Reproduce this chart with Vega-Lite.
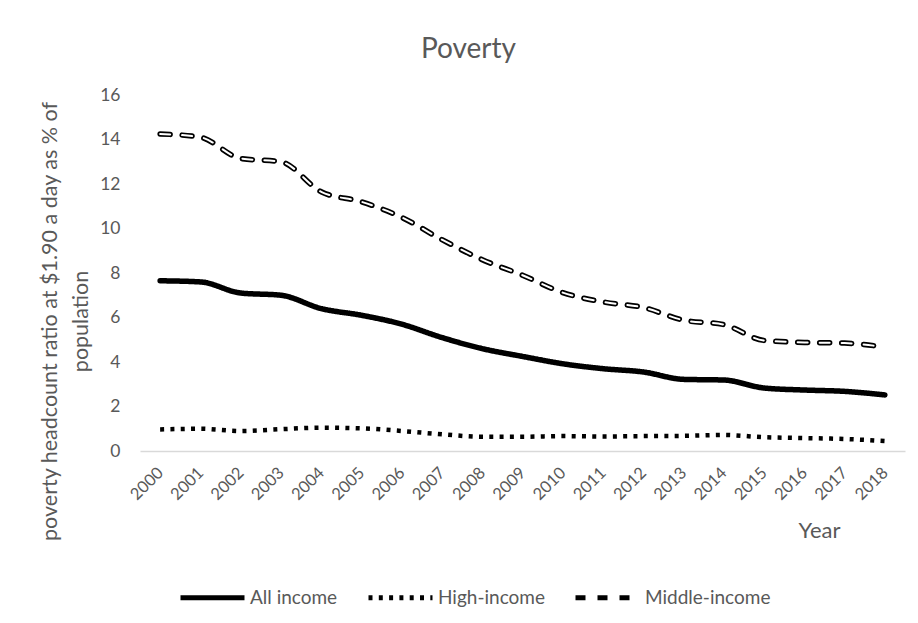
{
  "$schema": "https://vega.github.io/schema/vega-lite/v6.json",
  "autosize": "none",
  "width": 765,
  "height": 356,
  "padding": {"left": 140, "top": 95, "right": 13, "bottom": 172},
  "background": "white",
  "title": {"text": "Poverty", "anchor": "middle", "frame": "group", "dx": -54, "baseline": "alphabetic", "offset": 0, "fontSize": 28, "font": "Lato", "fontWeight": "normal", "color": "#595959"},
  "config": {"view": {"stroke": null}, "font": "Lato"},
  "data": {"values": [
    {"year": "2000", "series": "All income", "value": 7.65},
    {"year": "2001", "series": "All income", "value": 7.6},
    {"year": "2002", "series": "All income", "value": 7.1},
    {"year": "2003", "series": "All income", "value": 7.0},
    {"year": "2004", "series": "All income", "value": 6.4},
    {"year": "2005", "series": "All income", "value": 6.1},
    {"year": "2006", "series": "All income", "value": 5.7},
    {"year": "2007", "series": "All income", "value": 5.1},
    {"year": "2008", "series": "All income", "value": 4.6},
    {"year": "2009", "series": "All income", "value": 4.25},
    {"year": "2010", "series": "All income", "value": 3.92},
    {"year": "2011", "series": "All income", "value": 3.7},
    {"year": "2012", "series": "All income", "value": 3.55},
    {"year": "2013", "series": "All income", "value": 3.22},
    {"year": "2014", "series": "All income", "value": 3.19},
    {"year": "2015", "series": "All income", "value": 2.83},
    {"year": "2016", "series": "All income", "value": 2.74},
    {"year": "2017", "series": "All income", "value": 2.68},
    {"year": "2018", "series": "All income", "value": 2.52},
    {"year": "2000", "series": "High-income", "value": 0.97},
    {"year": "2001", "series": "High-income", "value": 1.0},
    {"year": "2002", "series": "High-income", "value": 0.9},
    {"year": "2003", "series": "High-income", "value": 0.98},
    {"year": "2004", "series": "High-income", "value": 1.05},
    {"year": "2005", "series": "High-income", "value": 1.02},
    {"year": "2006", "series": "High-income", "value": 0.9},
    {"year": "2007", "series": "High-income", "value": 0.75},
    {"year": "2008", "series": "High-income", "value": 0.64},
    {"year": "2009", "series": "High-income", "value": 0.64},
    {"year": "2010", "series": "High-income", "value": 0.67},
    {"year": "2011", "series": "High-income", "value": 0.65},
    {"year": "2012", "series": "High-income", "value": 0.67},
    {"year": "2013", "series": "High-income", "value": 0.68},
    {"year": "2014", "series": "High-income", "value": 0.72},
    {"year": "2015", "series": "High-income", "value": 0.62},
    {"year": "2016", "series": "High-income", "value": 0.58},
    {"year": "2017", "series": "High-income", "value": 0.54},
    {"year": "2018", "series": "High-income", "value": 0.45},
    {"year": "2000", "series": "Middle-income", "value": 14.25},
    {"year": "2001", "series": "Middle-income", "value": 14.1},
    {"year": "2002", "series": "Middle-income", "value": 13.15},
    {"year": "2003", "series": "Middle-income", "value": 13.0},
    {"year": "2004", "series": "Middle-income", "value": 11.65},
    {"year": "2005", "series": "Middle-income", "value": 11.2},
    {"year": "2006", "series": "Middle-income", "value": 10.5},
    {"year": "2007", "series": "Middle-income", "value": 9.5},
    {"year": "2008", "series": "Middle-income", "value": 8.6},
    {"year": "2009", "series": "Middle-income", "value": 7.9},
    {"year": "2010", "series": "Middle-income", "value": 7.12},
    {"year": "2011", "series": "Middle-income", "value": 6.7},
    {"year": "2012", "series": "Middle-income", "value": 6.45},
    {"year": "2013", "series": "Middle-income", "value": 5.88},
    {"year": "2014", "series": "Middle-income", "value": 5.68},
    {"year": "2015", "series": "Middle-income", "value": 4.97},
    {"year": "2016", "series": "Middle-income", "value": 4.88},
    {"year": "2017", "series": "Middle-income", "value": 4.85},
    {"year": "2018", "series": "Middle-income", "value": 4.67}
  ]},
  "encoding": {
    "x": {"field": "year", "type": "ordinal", "scale": {"type": "point", "padding": 0.5},
      "axis": {"title": "Year", "titleFont": "Lato", "titleFontSize": 22, "titleFontWeight": "normal", "titleColor": "#595959", "titleAnchor": "end", "titleAlign": "right", "titleX": 700, "titleY": 69,
        "labelAngle": -45, "labelAlign": "right", "labelBaseline": "middle", "labelFontSize": 16.5, "labelColor": "#595959", "labelPadding": 19,
        "ticks": false, "domainColor": "#d9d9d9", "domainWidth": 1.5, "grid": false}},
    "y": {"field": "value", "type": "quantitative", "scale": {"domain": [0, 16]},
      "axis": {"values": [0, 2, 4, 6, 8, 10, 12, 14, 16], "title": ["poverty headcount ratio at $1.90 a day as % of", "population"], "titleFont": "Lato", "titleFontSize": 21.5, "titleFontWeight": "normal", "titleColor": "#595959", "titleLineHeight": 31, "titleY": 226, "titleX": -90, "titleAnchor": "middle", "titleAlign": "center", "titleBaseline": "middle",
        "labelFontSize": 17.5, "labelColor": "#595959", "labelPadding": 20, "ticks": false, "domain": false, "grid": false}}
  },
  "layer": [
    {
      "transform": [{"filter": "datum.series !== 'High-income'"}],
      "mark": {"type": "line", "strokeWidth": 5.5, "strokeCap": "round", "strokeJoin": "round", "color": "black", "interpolate": "monotone"},
      "encoding": {
        "strokeDash": {"field": "series", "type": "nominal",
          "scale": {"domain": ["All income", "High-income", "Middle-income"], "range": [[1, 0], [4, 6.3], [10, 12]]},
          "legend": {"orient": "none", "legendX": 38, "legendY": 468, "direction": "horizontal", "title": null, "symbolType": "stroke", "symbolSize": 4096, "symbolStrokeWidth": 5, "symbolStrokeColor": "black", "labelFontSize": 19, "labelColor": "#595959", "labelFont": "Lato", "labelOffset": 3, "columnPadding": 20}
        }
      }
    },
    {
      "transform": [{"filter": "datum.series === 'High-income'"}],
      "mark": {"type": "line", "strokeWidth": 4.5, "strokeCap": "butt", "color": "black", "interpolate": "monotone"},
      "encoding": {
        "strokeDash": {"field": "series", "type": "nominal"}
      }
    },
    {
      "transform": [{"filter": "datum.series === 'Middle-income'"}],
      "mark": {"type": "line", "strokeWidth": 2, "strokeCap": "round", "strokeDash": [10, 12], "color": "white", "interpolate": "monotone"},
      "encoding": {}
    }
  ]
}
